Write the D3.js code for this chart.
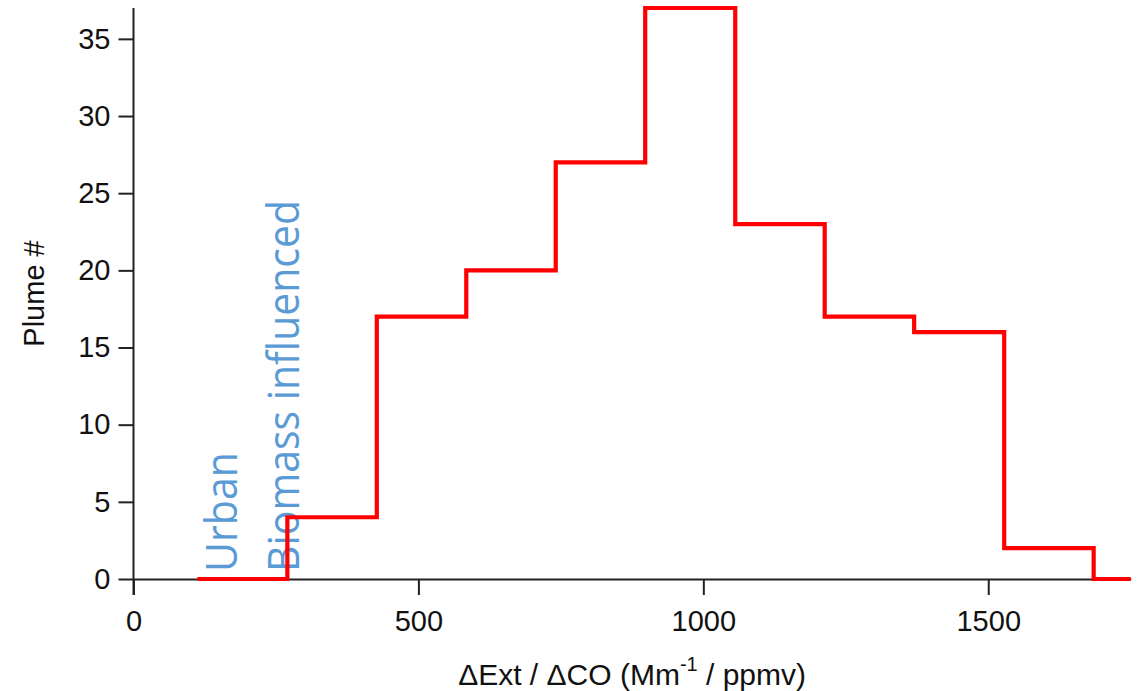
<!DOCTYPE html>
<html>
<head>
<meta charset="utf-8">
<script src="https://cdn.jsdelivr.net/npm/d3@7"></script>
<style>
  body { margin: 0; background: #fff; }
  text { font-family: "Liberation Sans", Arial, sans-serif; }
</style>
</head>
<body>
<div id="chart"></div>
<script>
// bin edges (ΔExt/ΔCO) and plume counts per bin
const binEdges = [112, 270, 427, 584, 741, 898, 1056, 1213, 1370, 1528, 1685, 1842];
const plumeCounts = [0, 4, 17, 20, 27, 37, 23, 17, 16, 2, 0];
const xTicks = [0, 500, 1000, 1500];
const yTicks = [0, 5, 10, 15, 20, 25, 30, 35];
const annotations = [
  { label: 'Urban', x: 182, length: 120 },
  { label: 'Biomass influenced', x: 291, length: 372 }
];

const W = 1142, H = 691;
const margin = { top: 8, right: 11.3, bottom: 112, left: 133.5 };
const width = W - margin.left - margin.right;
const height = H - margin.top - margin.bottom;

const svg = d3.select('#chart').append('svg')
  .attr('width', W)
  .attr('height', H);

const g = svg.append('g')
  .attr('transform', `translate(${margin.left},${margin.top})`);

const x = d3.scaleLinear().domain([0, 1750]).range([0, width]);
const y = d3.scaleLinear().domain([0, 37]).range([height, 0]);

// axes
const xAxis = g.append('g')
  .attr('transform', `translate(0,${height})`)
  .call(d3.axisBottom(x).tickValues(xTicks).tickFormat(d3.format('d'))
    .tickSize(16).tickPadding(15).tickSizeOuter(0));
const yAxis = g.append('g')
  .call(d3.axisLeft(y).tickValues(yTicks).tickFormat(d3.format('d'))
    .tickSize(15).tickPadding(8).tickSizeOuter(0));

[xAxis, yAxis].forEach(a => {
  a.select('.domain').attr('stroke', '#222').attr('stroke-width', 2);
  a.selectAll('.tick line').attr('stroke', '#222').attr('stroke-width', 2);
  a.selectAll('.tick text')
    .attr('fill', '#111')
    .style('font-size', '29px')
    .style('font-family', '"Liberation Sans", Arial, sans-serif');
});
// y axis extends below zero like the x tick marks
yAxis.select('.domain').attr('d', `M0,0V${height + 16}`);

// annotations (behind the line)
annotations.forEach(a => {
  g.append('text')
    .attr('transform', `translate(${x(a.x)},${height - 7}) rotate(-90)`)
    .attr('fill', '#5b9bd5')
    .attr('textLength', a.length)
    .attr('lengthAdjust', 'spacingAndGlyphs')
    .style('font-family', '"Open Sans", "Noto Sans", sans-serif')
    .style('font-size', '43px')
    .text(a.label);
});

// step histogram
const steps = [];
plumeCounts.forEach((c, i) => {
  steps.push([binEdges[i], c]);
  steps.push([binEdges[i + 1], c]);
});

g.append('clipPath').attr('id', 'clip')
  .append('rect').attr('x', 0).attr('y', -5).attr('width', width).attr('height', height + 10);

g.append('path')
  .datum(steps)
  .attr('clip-path', 'url(#clip)')
  .attr('fill', 'none')
  .attr('stroke', '#ff0000')
  .attr('stroke-width', 4.2)
  .attr('stroke-linejoin', 'miter')
  .attr('d', d3.line().x(d => x(d[0])).y(d => y(d[1])));

// axis titles
g.append('text')
  .attr('transform', `translate(${-90},${height / 2}) rotate(-90)`)
  .attr('text-anchor', 'middle')
  .style('font-size', '29px')
  .attr('fill', '#111')
  .text('Plume #');

const xl = g.append('text')
  .attr('x', width / 2)
  .attr('y', height + 106)
  .attr('text-anchor', 'middle')
  .style('font-size', '30px')
  .attr('fill', '#111');
xl.append('tspan').text('\u0394Ext / \u0394CO (Mm');
xl.append('tspan').attr('dy', -14).style('font-size', '20px').text('-1');
xl.append('tspan').attr('dy', 14).text(' / ppmv)');
</script>
</body>
</html>
